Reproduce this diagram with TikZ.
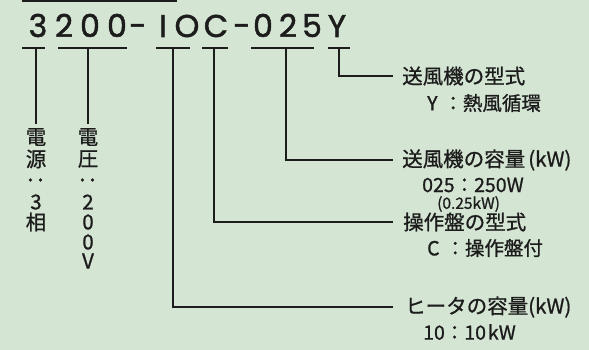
\documentclass[tikz,border=0pt]{standalone}
\usepackage{fontspec}
\newfontfamily\cjk[FakeBold=0.9]{Noto Sans CJK JP}
\newfontfamily\codefont[FakeBold=1.6]{Poppins}
\definecolor{bg}{RGB}{212,229,211}
\definecolor{ink}{RGB}{28,28,28}
\begin{document}
\begin{tikzpicture}[x=1pt,y=-1pt,
  codech/.style={anchor=base,inner sep=0pt,font=\codefont\fontsize{31.5}{31.5}\selectfont,text=ink},
  vch/.style={inner sep=0pt,font=\cjk\fontsize{20.5}{20.5}\selectfont,text=ink},
  lbl/.style={anchor=west,inner sep=0pt,font=\cjk\fontsize{20.5}{20.5}\selectfont,text=ink},
  sub/.style={anchor=west,inner sep=0pt,font=\cjk\fontsize{19.5}{19.5}\selectfont,text=ink},
  small/.style={anchor=west,inner sep=0pt,font=\cjk\fontsize{15.5}{15.5}\selectfont,text=ink},
  bar/.style={line width=2.4pt,draw=ink},
  lead/.style={line width=1.1pt,draw=ink}]
\fill[bg] (0,0) rectangle (589,350);
\useasboundingbox (0,0) rectangle (589,350);
% top box edge
\fill[ink] (22,0) rectangle (177,1.8);
% code characters
\node[codech] (c1) at (38,37) {3};
\node[codech] (c2) at (64,37) {2};
\node[codech] (c3) at (90,37) {0};
\node[codech] (c4) at (117,37) {0};
\node[codech] (c5) at (138,37) {-};
\node[codech] (c6) at (163,37) {I};
\node[codech] (c7) at (187,37) {O};
\node[codech] (c8) at (216,37) {C};
\node[codech] (c9) at (242,37) {-};
\node[codech] (c10) at (263,37) {0};
\node[codech] (c11) at (288,37) {2};
\node[codech] (c12) at (312,37) {5};
\node[codech] (c13) at (337,37) {Y};
% underline bars
\draw[bar] (22,48) -- (45,48);
\draw[bar] (58,48) -- (127,48);
\draw[bar] (156,48) -- (190,48);
\draw[bar] (202,48) -- (228,48);
\draw[bar] (251,48) -- (314,48);
\draw[bar] (328,48) -- (350,48);
\coordinate (b1) at (36,48);
\coordinate (b2) at (88,48);
\coordinate (b3) at (173,48);
\coordinate (b4) at (214,48);
\coordinate (b5) at (286,48);
\coordinate (b6) at (339,48);
% vertical labels
\node[vch] (v1a) at (36,137) {電};
\node[vch] (v1b) at (36,159) {源};
\node[vch,rotate=90] (v1c) at (36,180) {：};
\node[vch] (v1d) at (36,202) {3};
\node[vch] (v1e) at (36,222) {相};
\node[vch] (v2a) at (88,137) {電};
\node[vch] (v2b) at (88,159) {圧};
\node[vch,rotate=90] (v2c) at (88,180) {：};
\node[vch] (v2d) at (88,202) {2};
\node[vch] (v2e) at (88,222) {0};
\node[vch] (v2f) at (88,242) {0};
\node[vch] (v2g) at (88,261) {V};
% right labels
\node[lbl] (l6) at (402,76) {送風機の型式};
\node[sub] (s6) at (427,103) {Y\hspace{0.3em}：熱風循環};
\node[lbl] (l5) at (402,160) {送風機の容量\hspace{0.15em}(kW)};
\node[sub] (s5) at (422,185) {025：250W};
\node[small] (s5b) at (437,204) {(0.25kW)};
\node[lbl] (l4) at (403,222) {操作盤の型式};
\node[sub] (s4) at (427,248) {C\hspace{0.3em}：操作盤付};
\node[lbl] (l3) at (405,307) {ヒータの容量(kW)};
\node[sub] (s3) at (423,332) {10：10\hspace{0.1em}kW};
% leaders
\draw[lead] (b1) -- ([yshift=4pt]v1a.north);
\draw[lead] (b2) -- ([yshift=4pt]v2a.north);
\draw[lead] (b6) |- ([xshift=-9pt]l6.west);
\draw[lead] (b5) |- ([xshift=-9pt]l5.west);
\draw[lead] (b4) |- ([xshift=-10pt]l4.west);
\draw[lead] (b3) |- ([xshift=-12pt]l3.west);
\end{tikzpicture}
\end{document}
